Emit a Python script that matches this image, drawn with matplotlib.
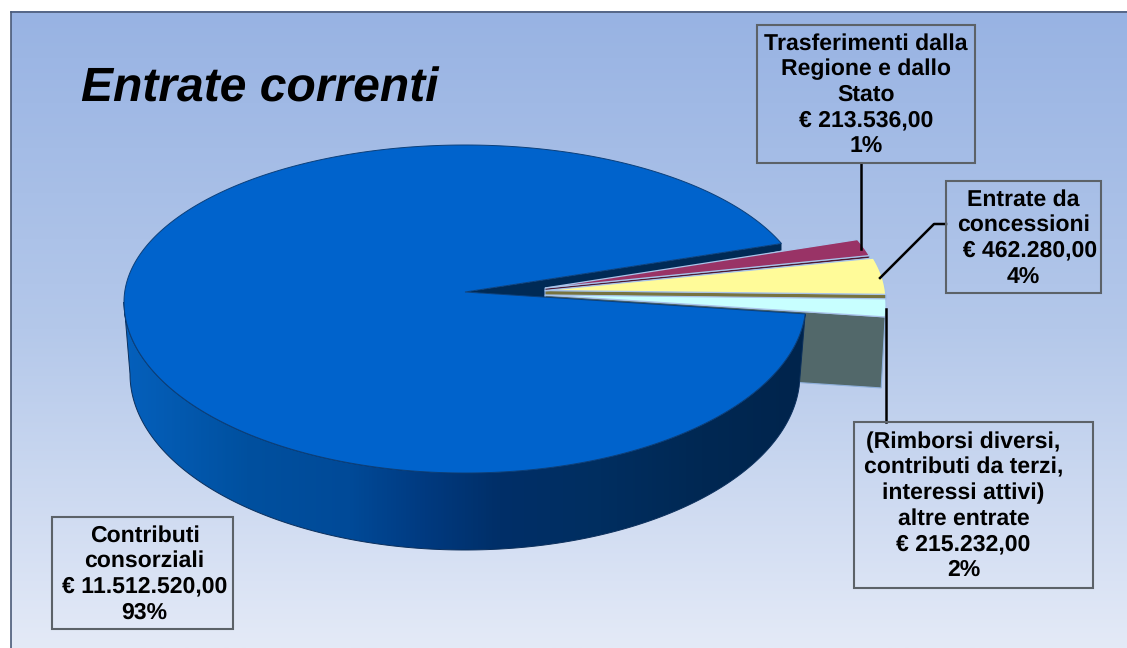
import numpy as np
import matplotlib
matplotlib.use('Agg')
import matplotlib.pyplot as plt
from matplotlib.colors import LinearSegmentedColormap
from matplotlib.patches import Polygon, Rectangle

plt.rcParams['font.family'] = ['Liberation Sans', 'DejaVu Sans']
plt.rcParams['text.hinting'] = 'none'
plt.rcParams['text.hinting_factor'] = 1

titolo = 'Entrate correnti'
# le fette piccole in ordine antiorario, poi quella grande
etichette = ['(Rimborsi diversi,\ncontributi da terzi,\ninteressi attivi)\naltre entrate',
             'Entrate da\nconcessioni',
             'Trasferimenti dalla\nRegione e dallo\nStato',
             'Contributi\nconsorziali']
valori = [215232.00, 462280.00, 213536.00, 11512520.00]
percentuali = ['2%', '4%', '1%', '93%']
colori = ['#C8FFFF', '#FFFB99', '#993366', '#0063CC']
lati = ['#52686A', '#77733F', '#4D1A33']


def euro(v):
    s = f'{v:,.2f}'.replace(',', 'X').replace('.', ',').replace('X', '.')
    return '€ ' + s


# geometria della torta in pixel
RX = 341
RY_SU = 157
RY_GIU = 171
CY = 302
CX_GRANDE = 465
CX_PICCOLE = 545
APICE_Y = 292
INIZIO = -4.0


def arco(cx, cy, rx, su, giu, a0, a1, n=200):
    t = np.radians(np.linspace(a0, a1, n))
    s = np.sin(t)
    y = cy - np.where(s > 0, su, giu) * s
    return np.column_stack([cx + rx * np.cos(t), y])


angoli = np.array(valori) / sum(valori) * 360
bordi = INIZIO + np.concatenate([[0], np.cumsum(angoli)])

fig = plt.figure(figsize=(11.27, 6.48), dpi=100, facecolor='white')
ax = fig.add_axes([0, 0, 1, 1])
ax.set_xlim(0, 1127)
ax.set_ylim(648, 0)
ax.axis('off')

# sfondo sfumato
sfondo = LinearSegmentedColormap.from_list('sf', ['#98B3E3', '#B4C8EA', '#E4EAF7'])
ax.imshow(np.linspace(0, 1, 256).reshape(-1, 1), cmap=sfondo, aspect='auto',
          extent=(10.5, 1127, 648, 11.5), zorder=0)
ax.plot([10.5, 10.5], [648, 11.5], color='#4A5A78', lw=1.2, zorder=1)
ax.plot([10.5, 1127], [11.5, 11.5], color='#4A5A78', lw=1.2, zorder=1)

# fetta grande: punti principali
a_fine, a_ini = bordi[3], bordi[4] - 360
apice = np.array([CX_GRANDE, APICE_Y])
arco_top = arco(CX_GRANDE, CY, RX, RY_SU, RY_GIU, a_fine, a_ini + 360, 500)
p_alto = arco_top[0]
p_basso = arco_top[-1]

# parete interna blu scuro
ax.add_patch(Polygon([apice, p_alto, p_alto + [0, 7], [CX_PICCOLE, 298]],
                     closed=True, fc='#002A55', ec='none', zorder=2))

# fette piccole con scostamento
scarti = [(0, 3), (0, -1.5), (-4, -4)]
for i in [0, 1, 2]:
    a = arco(CX_PICCOLE, CY, RX, RY_SU, RY_GIU, bordi[i], bordi[i + 1])
    dx, dy = scarti[i]
    a = a + [dx, dy]
    ap = np.array([CX_PICCOLE, APICE_Y + dy])
    fondo = 71 if i == 0 else (5 if i == 1 else 3)
    ax.add_patch(Polygon([ap + [0, 0], a[0], a[0] + [-4 if i == 0 else 0, fondo], ap + [0, fondo]],
                         closed=True, fc=lati[i], ec='#8FB0DC', lw=0.8, zorder=3 + i * 0.1))
    ax.add_patch(Polygon(np.vstack([ap, a]), closed=True, fc=colori[i], ec='#A9C4EA',
                         lw=0.9, zorder=3.5 + (2 - i) * 0.1))

# bordo esterno della fetta grande con sfumatura orizzontale
arco_giu = arco(CX_GRANDE, CY + 72, RX - 6, RY_SU, 176, 180, a_ini + 360, 300)
arco_su = arco(CX_GRANDE, CY, RX, RY_SU, RY_GIU, 180, a_ini + 360, 300)
bordo_poly = Polygon(np.vstack([arco_su, arco_giu[::-1]]), closed=True, fc='none', ec='#0B2F5C', lw=0.7, zorder=5)
ax.add_patch(bordo_poly)
cm_bordo = LinearSegmentedColormap.from_list('b', [(0, '#0560BC'), (0.18, '#00509F'), (0.33, '#004A98'),
                                                   (0.44, '#003A80'), (0.55, '#002F68'), (0.7, '#002E60'),
                                                   (0.85, '#002853'), (1, '#00244C')])
grad = ax.imshow(np.linspace(0, 1, 512).reshape(1, -1), cmap=cm_bordo, aspect='auto',
                 extent=(124, 806, 560, 290), zorder=4.5)
grad.set_clip_path(bordo_poly)

# faccia superiore
ax.add_patch(Polygon(np.vstack([apice, arco_top]), closed=True, fc=colori[3], ec='#0B3F7A', lw=0.7, zorder=6))
ax.set_xlim(0, 1127)
ax.set_ylim(648, 0)

# linee guida
ax.plot([861, 861], [163, 249], color='black', lw=1.8, zorder=7)
ax.plot([880, 934, 946], [278, 224, 224], color='black', lw=1.8, zorder=7)
ax.plot([886, 886], [309, 422], color='black', lw=1.8, zorder=7)

# riquadri (x, y, larghezza, altezza) nell'ordine delle etichette
riquadri = [(854, 422, 239, 166), (946, 181, 155, 112), (757, 25, 218, 138), (52, 517, 181, 112)]
scarto_testo = [-10, 0, 0, 2]
spazio_euro = ['', '  ', '', '']
for et, v, perc, (x, y, w, h), st, sp in zip(etichette, valori, percentuali, riquadri, scarto_testo, spazio_euro):
    ax.add_patch(Rectangle((x, y), w, h, fc='none', ec='#5C6268', lw=1.5, zorder=8))
    ax.text(x + w / 2 + st, y + h / 2 + 1, f'{et}\n{sp}{euro(v)}\n{perc}', ha='center', va='center',
            fontsize=16.6, fontweight='bold', linespacing=1.25, color='black', zorder=9)

ax.text(81, 101.5, titolo, fontsize=34.6, fontweight='bold', fontstyle='italic',
        ha='left', va='baseline', color='black', zorder=9)

fig.savefig('out.png', dpi=100)
